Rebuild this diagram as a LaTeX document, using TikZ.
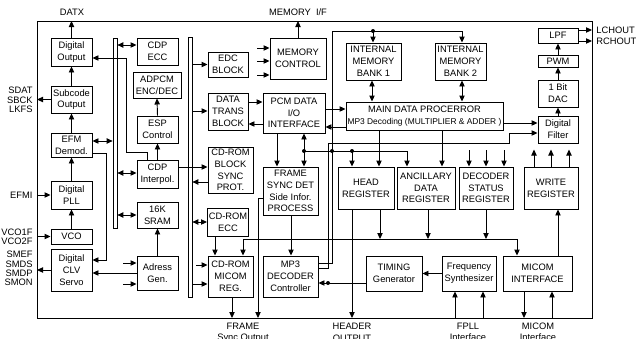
\documentclass[tikz,border=0pt]{standalone}
\usepackage{fontspec}
\setmainfont{Liberation Sans}
\usetikzlibrary{arrows.meta}
\tikzset{every picture/.style={line width=0.7pt}}

\begin{document}
\begin{tikzpicture}
    [x=0.75pt, y=-0.75pt,
    rect/.style = {rectangle, draw, align=center, inner sep=1pt,
            font=\fontsize{7}{8.8}\selectfont},
    bus/.style = {rectangle, draw, fill=white, inner sep=0pt,
            line width=0.5pt, minimum width=3pt},
    txt/.style = {align=center, inner sep=0pt, font=\fontsize{7}{8.5}\selectfont},
    side/.style = {txt, align=right, anchor=east, font=\fontsize{7}{7}\selectfont},
    dot/.style = {circle, fill, inner sep=0pt, minimum size=3pt},
    >={Triangle[length=4.5pt, width=4pt]},
    ]
    
    \useasboundingbox (0,0) rectangle (637,339);
    \coordinate (frame-nw) at (37,21);
    \coordinate (frame-se) at (592,318);
    \draw (frame-nw) rectangle (frame-se);
    
    \node[bus, minimum height=142.5pt] (bus-a) at (115,133) {};
    \node[bus, minimum height=195pt] (bus-b) at (190,167) {};
    
    
    \node[rect, minimum width=30.75pt, minimum height=21pt] (digital-out) at (71.5,52) {Digital\\Output};
    \node[rect, minimum width=30.75pt, minimum height=20.25pt] (subcode-out) at (71.5,99.5) {Subcode\\Output};
    \node[rect, minimum width=30.75pt, minimum height=18pt] (efm-demod) at (71.5,145) {EFM\\Demod.};
    \node[rect, minimum width=30.75pt, minimum height=21pt] (digital-pll) at (71.5,195) {Digital\\PLL};
    \node[rect, minimum width=30.75pt, minimum height=11.25pt] (vco) at (71.5,236.5) {VCO};
    \node[rect, minimum width=30.75pt, minimum height=31.5pt] (clv-servo) at (71.5,270) {Digital\\CLV\\Servo};
    
    \node[rect, minimum width=30.75pt, minimum height=20.25pt] (cdp-ecc) at (157.5,51.5) {CDP\\ECC};
    \node[rect, minimum width=36pt, minimum height=19.5pt] (adpcm) at (157,85) {ADPCM\\ENC/DEC};
    \node[rect, minimum width=30.75pt, minimum height=20.25pt] (esp-ctrl) at (157.5,129.5) {ESP\\Control};
    \node[rect, minimum width=30.75pt, minimum height=21pt] (cdp-interp) at (157.5,174) {CDP\\Interpol.};
    \node[rect, minimum width=30.75pt, minimum height=19.5pt] (sram) at (157.5,215) {16K\\SRAM};
    \node[rect, minimum width=30.75pt, minimum height=25.5pt] (adr-gen) at (157.5,273) {Adress\\Gen.};
    
    \node[rect, minimum width=30pt, minimum height=18.75pt] (edc) at (228,64.5) {EDC\\BLOCK};
    \node[rect, minimum width=42pt, minimum height=30.75pt] (mem-ctrl) at (298,58.5) {MEMORY\\CONTROL};
    \node[rect, minimum width=30pt, minimum height=27.75pt] (data-trans) at (228,111.5) {DATA\\TRANS\\BLOCK};
    \node[rect, minimum width=46.5pt, minimum height=30pt] (pcm-io) at (294,113) {PCM DATA\\I/O\\INTERFACE};
    \node[rect, minimum width=33.75pt, minimum height=34.5pt] (rom-sync) at (230.5,170) {CD-ROM\\BLOCK\\SYNC\\PROT.};
    \node[rect, minimum width=30pt, minimum height=21pt] (rom-ecc) at (228,222) {CD-ROM\\ECC};
    \node[rect, minimum width=33.75pt, minimum height=30.75pt] (rom-reg) at (230.5,276.5) {CD-ROM\\MICOM\\REG.};
    \node[rect, minimum width=41.25pt, minimum height=36pt] (frame-sync) at (290.5,191) {FRAME\\SYNC DET\\Side Infor.\\PROCESS};
    \node[rect, minimum width=41.25pt, minimum height=30.75pt] (mp3-dec) at (290.5,276.5) {MP3\\DECODER\\Controller};
    
    \node[rect, minimum width=41.25pt, minimum height=27.75pt] (bank-a) at (373.5,61.5) {INTERNAL\\MEMORY\\BANK 1};
    \node[rect, minimum width=38.25pt, minimum height=27.75pt] (bank-b) at (460.5,61.5) {INTERNAL\\MEMORY\\BANK 2};
    \node[rect, minimum width=117.75pt, minimum height=21pt] (main-proc) at (424.5,116) {MAIN DATA PROCERROR\\{\fontsize{6.3}{8}\selectfont MP3 Decoding (MULTIPLIER \& ADDER )}};
    \node[rect, minimum width=42pt, minimum height=31.5pt] (head-reg) at (366,188) {HEAD\\REGISTER};
    \node[rect, minimum width=43.5pt, minimum height=31.5pt] (anc-reg) at (426,188) {ANCILLARY\\DATA\\REGISTER};
    \node[rect, minimum width=40.5pt, minimum height=31.5pt] (dec-status) at (486,188) {DECODER\\STATUS\\REGISTER};
    \node[rect, minimum width=40.5pt, minimum height=31.5pt] (write-reg) at (551,188) {WRITE\\REGISTER};
    \node[rect, minimum width=42pt, minimum height=26.25pt] (timing) at (394,273.5) {TIMING\\Generator};
    \node[rect, minimum width=40.5pt, minimum height=26.25pt] (freq-syn) at (469,273.5) {Frequency\\Synthesizer};
    \node[rect, minimum width=51.75pt, minimum height=26.25pt] (micom-intf) at (537.5,273.5) {MICOM\\INTERFACE};
    
    \node[rect, minimum width=30pt, minimum height=11.25pt] (lpf) at (558,35.5) {LPF};
    \node[rect, minimum width=30pt, minimum height=9pt] (pwm) at (558,61) {PWM};
    \node[rect, minimum width=30pt, minimum height=20.25pt] (bit-dac) at (558,93.5) {1 Bit\\DAC};
    \node[rect, minimum width=30pt, minimum height=20.25pt] (dig-filter) at (558,129.5) {Digital\\Filter};
    
    
    \node[txt] (datx) at (72,12) {DATX};
    \node[txt] (mem-label) at (298,12) {MEMORY~~I/F};
    \node[side] (sub-label) at (33,100) {SDAT\\SBCK\\LKFS};
    \node[side] (efmi) at (33,195) {EFMI};
    \node[side] (vco-label) at (33,236.5) {VCO1F\\VCO2F};
    \node[side] (servo-label) at (33,268.5) {SMEF\\SMDS\\SMDP\\SMON};
    \node[txt, anchor=west, align=left] (ch-label) at (596,35.5) {LCHOUT\\RCHOUT};
    \node[txt, anchor=north] (frame-label) at (243,322.5) {FRAME\\Sync Output};
    \node[txt, anchor=north] (header-label) at (352,323) {HEADER\\OUTPUT};
    \node[txt, anchor=north] (fpll-label) at (468,322.5) {FPLL\\Interface};
    \node[txt, anchor=north] (micom-label) at (538,322.5) {MICOM\\Interface};
    
    
    \draw[->] (digital-out.north) -- (digital-out.north |- frame-nw);
    \draw[->] (subcode-out.north) -- (digital-out.south);
    \draw[->] (efm-demod.north) -- (subcode-out.south);
    \draw[->] (digital-pll.north) -- (efm-demod.south);
    \draw[->] (vco.north) -- (digital-pll.south);
    \draw[->] (subcode-out.west) -- (subcode-out.west -| frame-nw);
    \draw[->] (digital-pll.west -| frame-nw) -- (digital-pll.west);
    \draw[->] (vco.west -| frame-nw) -- (vco.west);
    \draw[->] (clv-servo.west) -- (clv-servo.west -| frame-nw);
    \draw[<->] (efm-demod.east |- 0,141) -- (bus-a.west |- 0,141);
    \draw[->] (efm-demod.east |- 0,153) -- ++(14,0) |- (clv-servo.east |- 0,260);
    \draw[->] (cdp-interp.north -| 147,0) -- (147,152) -| (126,58) -- (digital-out.east |- 0,58);
    
    \draw[<->] (bus-a.east |- 0,45) -- (cdp-ecc.west |- 0,45);
    \draw[->] (esp-ctrl.north) -- (adpcm.south);
    \draw[->] (cdp-interp.north) -- (esp-ctrl.south);
    \draw[<->] (bus-a.east |- 0,173) -- (cdp-interp.west |- 0,173);
    \draw[<->] (bus-a.east |- sram.west) -- (sram.west);
    \draw[->] (adr-gen.north) -- (sram.south);
    \draw[<-] (adr-gen.west |- 0,263) -- ++(-14,0);
    \draw[<-] (adr-gen.west |- 0,284) -- ++(-14,0);
    \draw[->] (adr-gen.west) -- (clv-servo.east |- adr-gen.west);
    
    \draw[->] (cdp-interp.east |- 0,167) -- (rom-sync.west |- 0,167);
    \draw[->] (rom-sync.west |- 0,182) -- (bus-b.east |- 0,182);
    \draw[->] (bus-b.east |- edc.west) -- (edc.west);
    \draw[->] (bus-b.east |- 0,111) -- (data-trans.west |- 0,111);
    \foreach \y in {48,61,75}
        \draw[<-] (mem-ctrl.west |- 0,\y) -- ++(-13,0);
    \draw[->] (mem-ctrl.north) -- (mem-ctrl.north |- frame-nw);
    \draw[->] (data-trans.east |- 0,102) -- (pcm-io.west |- 0,102);
    \draw[->] (pcm-io.west |- 0,124) -- (data-trans.east |- 0,124);
    \draw[->] (pcm-io.east |- 0,109) -- (main-proc.west |- 0,109);
    \draw[->] (main-proc.west |- 0,127) -- (pcm-io.east |- 0,127);
    \draw[->] (pcm-io.south -| 277,0) -- (frame-sync.north -| 277,0);
    \draw[<->] (pcm-io.south -| 304,0) -- (frame-sync.north -| 304,0);
    
    \node[dot] (dot-fs) at (304,151) {};
    \node[dot] (dot-mp3) at (332,151) {};
    \node[dot] (dot-head) at (352,151) {};
    \node[dot] (dot-bank) at (373,31) {};
    \node[dot] (dot-tim) at (328,283) {};
    \draw[->] (dot-fs.center) -| (anc-reg.north -| 407,0);
    \draw[->] (dot-head.center) -- (head-reg.north -| 352,0);
    \draw[->] (mp3-dec.east |- 0,263) -- (332,263) -- (332,31) -| (bank-b.north -| 462,0);
    \draw[->] (dot-bank.center) -- (bank-a.north -| 373,0);
    \draw[->] (mp3-dec.east |- 0,268) -- (328,268) -- (328,143) -- (509,143) -- (509,133) -- (dig-filter.west |- 0,133);
    \draw[->] (main-proc.east |- 0,123) -- (dig-filter.west |- 0,123);
    \draw[<->] (bank-a.south -| 372,0) -- (main-proc.north -| 372,0);
    \draw[<->] (bank-b.south -| 462,0) -- (main-proc.north -| 462,0);
    \draw[->] (main-proc.south -| 379,0) -- (head-reg.north -| 379,0);
    \draw[->] (main-proc.south -| 442,0) -- (anc-reg.north -| 442,0);
    \foreach \x in {469,486,504}
        \draw[<-] (dec-status.north -| \x,0) -- ++(0,-17);
    \foreach \x in {534,551,569}
        \draw[->] (write-reg.north -| \x,0) -- ++(0,-17);
    \draw[->] (micom-intf.north -| 558,0) -- (write-reg.south -| 558,0);
    
    \draw[->] (dig-filter.north) -- (bit-dac.south);
    \draw[->] (bit-dac.north) -- (pwm.south);
    \draw[->] (pwm.north) -- (lpf.south);
    \draw[->] (lpf.east |- 0,30) -- (frame-se |- 0,30);
    \draw[->] (lpf.east |- 0,41) -- (frame-se |- 0,41);
    
    \draw[<->] (bus-b.east |- rom-ecc.west) -- (rom-ecc.west);
    \draw[->] (rom-ecc.south -| 215,0) -- (rom-reg.north -| 215,0);
    \draw[<->] (rom-reg.north -| 243,0) |- (517,239) -- (micom-intf.north -| 517,0);
    \draw[->] (head-reg.south -| 380,0) -- (380,239);
    \draw[->] (anc-reg.south -| 428,0) -- (428,239);
    \draw[->] (dec-status.south -| 486,0) -- (486,239);
    \draw[<-] (rom-reg.west |- 0,265) -- ++(-12,0);
    \draw[->] (bus-b.east |- 0,284) -- (rom-reg.west |- 0,284);
    \draw[->] (rom-reg.south -| 232,0) -- (frame-se -| 232,0);
    \draw[->] (frame-sync.west |- 0,198) -- (258,198) -- (frame-se -| 258,0);
    \draw[->] (frame-sync.south -| 291,0) -- (mp3-dec.north -| 291,0);
    \draw[->] (timing.west |- 0,283) -- (mp3-dec.east |- 0,283);
    \draw[->] (freq-syn.west) -- (timing.east);
    \draw[<-] (freq-syn.south -| 455,0) -- (frame-se -| 455,0);
    \draw[<-] (freq-syn.south -| 483,0) -- (frame-se -| 483,0);
    \draw[->] (micom-intf.south -| 524,0) -- (frame-se -| 524,0);
    \draw[<-] (micom-intf.south -| 552,0) -- (frame-se -| 552,0);
    \draw[->] (head-reg.south -| 352,0) -- (frame-se -| 352,0);
\end{tikzpicture}
\end{document}
